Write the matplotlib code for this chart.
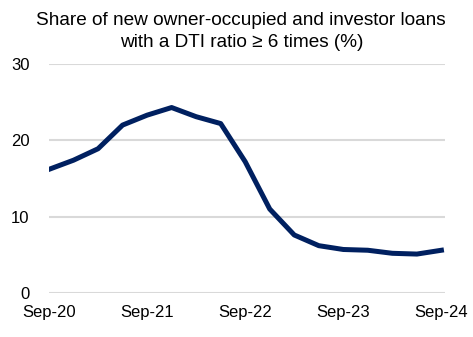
import numpy as np
from matplotlib import pyplot as plt

plt.rcParams['font.family'] = ['Liberation Sans', 'DejaVu Sans']

quarters = ['Sep-20', 'Dec-20', 'Mar-21', 'Jun-21', 'Sep-21', 'Dec-21', 'Mar-22', 'Jun-22',
            'Sep-22', 'Dec-22', 'Mar-23', 'Jun-23', 'Sep-23', 'Dec-23', 'Mar-24', 'Jun-24', 'Sep-24']
dti_share = [16.2, 17.4, 18.9, 22.0, 23.3, 24.3, 23.1, 22.2,
             17.2, 11.0, 7.6, 6.2, 5.7, 5.6, 5.2, 5.1, 5.6]
tick_labels = ['Sep-20', 'Sep-21', 'Sep-22', 'Sep-23', 'Sep-24']

fig = plt.figure(figsize=(4.73, 3.37), dpi=100)
ax = fig.add_axes([0.1036, 0.1306, 0.8374, 0.6794])

x = np.arange(len(quarters))
ax.plot(x, dti_share, color='#002060', linewidth=3.6, solid_joinstyle='round', zorder=3)

ax.set_ylim(0, 30)
ax.set_yticks([0, 10, 20, 30])
ax.set_xlim(0, 16.15)
ax.set_xticks([quarters.index(t) for t in tick_labels])
ax.set_xticklabels(tick_labels)

ax.grid(axis='y', color='#d9d9d9', linewidth=1.5)
ax.set_axisbelow(True)
for s in ax.spines.values():
    s.set_visible(False)
ax.tick_params(length=0, labelsize=12, colors='#000000')
ax.tick_params(axis='y', pad=14)
ax.tick_params(axis='x', pad=9)

fig.suptitle('Share of new owner-occupied and investor loans\nwith a DTI ratio \u2265 6 times (%)',
             fontsize=13.7, y=0.965, va='top', x=0.51, linespacing=1.4)

fig.savefig('out.png', dpi=100)
